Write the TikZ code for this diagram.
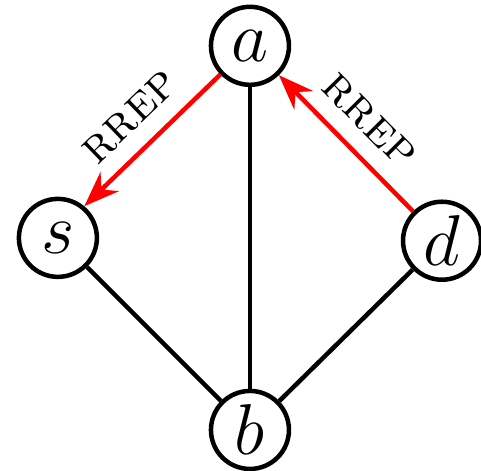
\documentclass[tikz,border=0pt]{standalone}
\usetikzlibrary{arrows.meta}
\begin{document}
\begin{tikzpicture}[>=Stealth,
    vertex/.style={circle,draw,line width=0.9pt,minimum size=15.6pt,inner sep=0pt,font=\Large},
    link/.style={line width=0.9pt},
    msg/.style={red,line width=0.9pt,->}]
  \useasboundingbox (-1.757,-0.288) rectangle (1.624,3.022);
  \node[vertex] (a) at (0,2.7) {$a$};
  \node[vertex] (s) at (-1.35,1.35) {$s$};
  \node[vertex] (d) at (1.35,1.33) {$d$};
  \node[vertex] (b) at (0,0) {$b$};
  \draw[link] (s) -- (b);
  \draw[link] (a) -- (b);
  \draw[link] (d) -- (b);
  \draw[msg] (a) -- (s) node[midway,above,sloped,black] {\textsc{rrep}};
  \draw[msg] (d) -- (a) node[midway,above,sloped,black] {\textsc{rrep}};
\end{tikzpicture}
\end{document}
